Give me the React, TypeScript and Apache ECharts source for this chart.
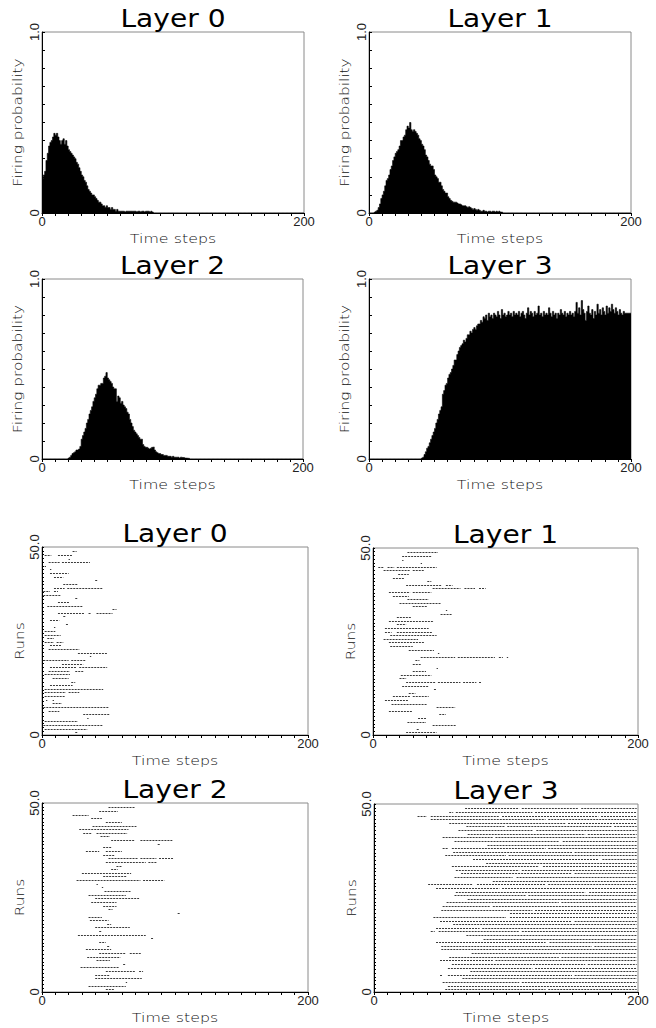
import React, { useEffect, useRef } from 'react';
import * as echarts from 'echarts';

// ---------------- DATA ----------------
const TIME_MAX = 200;
const RUN_MAX = 50;
const LAYER_TITLES = ['Layer 0', 'Layer 1', 'Layer 2', 'Layer 3'];
const X_NAME = 'Time steps';
const HIST_Y_NAME = 'Firing probability';
const RASTER_Y_NAME = 'Runs';

// firing probability per time step; each array starts at its *_START step, zero elsewhere
const L0_PROB_START = 0;
const L0_PROB = [
  0.19, 0.21, 0.23, 0.29, 0.33, 0.37, 0.39, 0.40, 0.42, 0.44,
  0.43, 0.44, 0.42, 0.40, 0.38, 0.40, 0.41, 0.38, 0.40, 0.37,
  0.35, 0.34, 0.33, 0.32, 0.31, 0.30, 0.28, 0.27, 0.25, 0.23,
  0.21, 0.20, 0.18, 0.17, 0.15, 0.13, 0.12, 0.11, 0.10, 0.10,
  0.09, 0.08, 0.07, 0.06, 0.06, 0.05, 0.04, 0.04, 0.03, 0.04,
  0.03, 0.03, 0.02, 0.03, 0.02, 0.02, 0.01, 0.02, 0.01, 0.01,
  0.01, 0.01, 0.01, 0.005, 0.01, 0.01, 0.01, 0.01, 0.01, 0.01,
  0.01, 0.01, 0.005, 0.01, 0.01, 0.005, 0.01, 0.01, 0.005, 0.01,
  0.01, 0.01, 0.005, 0.01, 0.005,
];
const L1_PROB_START = 4;
const L1_PROB = [
  0.005, 0.01, 0.015, 0.03, 0.05, 0.08,
  0.10, 0.12, 0.15, 0.18, 0.19, 0.21, 0.24, 0.26, 0.29, 0.31,
  0.33, 0.34, 0.35, 0.37, 0.40, 0.40, 0.42, 0.43, 0.46, 0.48,
  0.47, 0.50, 0.46, 0.45, 0.46, 0.45, 0.44, 0.43, 0.41, 0.40,
  0.38, 0.37, 0.35, 0.32, 0.31, 0.29, 0.27, 0.26, 0.26, 0.24,
  0.21, 0.20, 0.19, 0.17, 0.17, 0.15, 0.13, 0.12, 0.11, 0.11,
  0.09, 0.08, 0.07, 0.065, 0.06, 0.06, 0.06, 0.055, 0.05, 0.05,
  0.045, 0.04, 0.04, 0.04, 0.035, 0.03, 0.035, 0.03, 0.025, 0.02,
  0.025, 0.02, 0.015, 0.02, 0.015, 0.01, 0.01, 0.015, 0.01, 0.01,
  0.005, 0.01, 0.01, 0.005, 0.01, 0.01, 0.005, 0.01, 0.005, 0.01, 0.005, 0.005,
];
const L2_PROB_START = 20;
const L2_PROB = [
  0.005, 0.01, 0.02, 0.03, 0.035, 0.04, 0.05, 0.05, 0.055, 0.07,
  0.11, 0.13, 0.15, 0.17, 0.20, 0.22, 0.25, 0.27, 0.29, 0.32,
  0.34, 0.36, 0.39, 0.41, 0.41, 0.42, 0.42, 0.45, 0.46, 0.48,
  0.45, 0.44, 0.43, 0.42, 0.40, 0.39, 0.39, 0.32, 0.35, 0.34,
  0.31, 0.32, 0.30, 0.29, 0.28, 0.26, 0.25, 0.22, 0.20, 0.18,
  0.16, 0.15, 0.14, 0.13, 0.12, 0.11, 0.11, 0.08, 0.07, 0.065,
  0.065, 0.06, 0.055, 0.06, 0.065, 0.067, 0.05, 0.04, 0.035, 0.03,
  0.03, 0.025, 0.025, 0.02, 0.02, 0.02, 0.015, 0.015, 0.015, 0.01,
  0.015, 0.01, 0.01, 0.01, 0.01, 0.005, 0.01, 0.008, 0.008, 0.005, 0.005, 0.004, 0.004,
];
const L3_PROB_START = 40;
const L3_PROB = [
  0.005, 0.01, 0.025, 0.04, 0.06, 0.07, 0.09, 0.11, 0.13, 0.15,
  0.17, 0.20, 0.22, 0.25, 0.27, 0.29, 0.36, 0.38, 0.41, 0.42,
  0.45, 0.47, 0.48, 0.50, 0.52, 0.55, 0.55, 0.58, 0.60, 0.62,
  0.63, 0.64, 0.66, 0.65, 0.67, 0.69, 0.69, 0.71, 0.70, 0.72,
  0.73, 0.72, 0.74, 0.75, 0.75, 0.77, 0.76, 0.79, 0.78, 0.80,
  0.77, 0.81, 0.79, 0.80, 0.78, 0.81, 0.80, 0.79, 0.82, 0.80,
  0.78, 0.83, 0.80, 0.81, 0.79, 0.80, 0.82, 0.80, 0.81, 0.79,
  0.82, 0.80, 0.81, 0.80, 0.82, 0.79, 0.81, 0.82, 0.80, 0.78,
  0.81, 0.84, 0.80, 0.82, 0.81, 0.79, 0.82, 0.80, 0.81, 0.85,
  0.80, 0.81, 0.79, 0.82, 0.80, 0.81, 0.80, 0.84, 0.81, 0.79,
  0.82, 0.80, 0.81, 0.78, 0.81, 0.80, 0.83, 0.81, 0.80, 0.82,
  0.79, 0.81, 0.80, 0.82, 0.80, 0.81, 0.79, 0.82, 0.87, 0.81,
  0.84, 0.80, 0.88, 0.83, 0.81, 0.77, 0.82, 0.85, 0.81, 0.80,
  0.83, 0.78, 0.82, 0.80, 0.86, 0.81, 0.83, 0.80, 0.84, 0.82,
  0.80, 0.85, 0.81, 0.84, 0.82, 0.86, 0.83, 0.81, 0.84, 0.82,
  0.80, 0.83, 0.81, 0.80, 0.82, 0.81, 0.81, 0.81, 0.81, 0.81,
];

// spike rasters: one entry per run, listed from the top run down to run 0;
// each entry lists [firstStep, lastStep] stretches of firing
const L0_RASTER = [
  [[23, 26]], [[2, 7], [12, 23]], [[20, 21]], [[5, 14], [15, 36]], [[2, 3]],
  [[6, 7]], [[6, 20]], [[9, 16]], [[40, 42]], [[16, 27]],
  [[9, 17], [19, 46]], [[1, 6], [9, 12]], [[1, 14]], [[25, 27]], [[12, 21]],
  [[4, 31]], [[53, 56]], [[12, 32], [35, 37], [41, 53]], [[16, 18]], [[6, 13]],
  [[18, 20]], [[9, 10]], [[2, 10]], [[2, 14]], [[4, 9]],
  [[2, 9], [11, 16]], [[6, 15]], [[5, 28]], [[27, 49]], [[36, 37]],
  [[1, 20], [22, 33]], [[15, 31]], [[6, 26], [28, 49]], [[5, 21], [25, 31]], [[2, 21]],
  [[8, 20]], [[22, 25]], [[6, 23]], [[2, 46]], [[2, 18], [20, 28]],
  [[2, 17]], [[3, 4], [8, 9]], [[8, 15]], [[1, 50]], [[5, 13]],
  [[31, 51]], [[34, 35]], [[2, 27]], [[1, 46]], [[2, 34]],
  [[25, 27]],
];
const L1_RASTER = [
  [[26, 49]], [[22, 44]], [[22, 23]], [[36, 37]], [[4, 8], [11, 16], [18, 48]],
  [[8, 28], [30, 39]], [[19, 27]], [[15, 24]], [[41, 44]], [[25, 52], [55, 60]],
  [[45, 66], [69, 77], [80, 85]], [[12, 28], [30, 44]], [[15, 27]], [[26, 42]], [[20, 51]],
  [[30, 41]], [[55, 56]], [[51, 60]], [[18, 29]], [[12, 46]],
  [[18, 25]], [[9, 42]], [[9, 14], [18, 45]], [[13, 48]], [[8, 34]],
  [[12, 39]], [[13, 30]], [[27, 46]], [[49, 50]], [[36, 62], [64, 92], [95, 98], [101, 102]],
  [[32, 35]], [[30, 36]], [[48, 49]], [[30, 40]], [[21, 44]],
  [[20, 25]], [[25, 47], [49, 66], [68, 78], [80, 82]], [[22, 42]], [[46, 48]], [[27, 32]],
  [[15, 28], [30, 42]], [[9, 27]], [[14, 41]], [[48, 62]], [[12, 30]],
  [[50, 55]], [[34, 40]], [[26, 40]], [[45, 63]], [[33, 35]],
  [[25, 48]],
];
const L2_RASTER = [
  [[50, 70]], [[43, 57]], [[23, 35]], [[37, 45]], [[48, 60]],
  [[38, 71]], [[28, 65]], [[31, 37], [41, 64]], [[44, 51]], [[52, 70], [74, 98]],
  [[87, 89]], [[46, 52]], [[33, 43], [48, 60]], [[46, 55]], [[50, 72], [74, 86], [88, 99]],
  [[48, 78], [80, 86]], [[56, 60]], [[52, 57]], [[30, 67]], [[46, 64]],
  [[26, 74], [76, 92]], [[41, 42]], [[45, 46]], [[47, 67]], [[35, 63]],
  [[40, 73]], [[37, 56]], [[46, 56]], [[50, 53]], [[102, 104]],
  [[35, 45]], [[36, 50]], [[49, 52]], [[40, 66]], [[43, 45]],
  [[27, 78]], [[82, 84]], [[43, 48]], [[49, 51]], [[33, 52]],
  [[43, 63], [66, 75]], [[34, 59]], [[41, 51]], [[61, 63]], [[29, 58]],
  [[48, 70], [73, 76]], [[40, 51]], [[40, 75]], [[63, 64]], [[35, 63]],
  [[48, 54]],
];
const L3_RASTER = [
  [[69, 110], [112, 155], [157, 199]], [[57, 60], [62, 120], [122, 199]], [[33, 40], [43, 95], [97, 170], [172, 199]], [[43, 130], [132, 199]], [[57, 145], [147, 199]],
  [[70, 99], [101, 180], [182, 199]], [[64, 120], [123, 199]], [[71, 160], [162, 199]], [[52, 90], [92, 199]], [[61, 140], [143, 199]],
  [[86, 199]], [[52, 56], [59, 130], [132, 199]], [[60, 150], [152, 199]], [[54, 100], [102, 199]], [[75, 170], [173, 199]],
  [[85, 199]], [[59, 125], [128, 199]], [[62, 110], [112, 199]], [[66, 150], [152, 199]], [[61, 105], [108, 199]],
  [[90, 199]], [[41, 75], [78, 130], [132, 199]], [[47, 95], [97, 199]], [[62, 160], [163, 199]], [[61, 115], [117, 199]],
  [[71, 199]], [[55, 140], [142, 199]], [[52, 88], [90, 199]], [[51, 120], [122, 199]], [[103, 199]],
  [[45, 100], [103, 199]], [[50, 150], [152, 199]], [[60, 199]], [[47, 80], [82, 199]], [[43, 46], [49, 110], [112, 199]],
  [[70, 199]], [[83, 199]], [[47, 130], [133, 199]], [[51, 165], [167, 199]], [[51, 100], [102, 199]],
  [[74, 199]], [[57, 140], [142, 199]], [[50, 90], [92, 199]], [[59, 160], [162, 199]], [[56, 120], [122, 199]],
  [[73, 199]], [[50, 52], [56, 150], [152, 199]], [[67, 199]], [[52, 110], [112, 199]], [[56, 199]],
  [[54, 130], [132, 199]],
];

const HISTS = [
  { start: L0_PROB_START, values: L0_PROB },
  { start: L1_PROB_START, values: L1_PROB },
  { start: L2_PROB_START, values: L2_PROB },
  { start: L3_PROB_START, values: L3_PROB },
];
const RASTERS = [L0_RASTER, L1_RASTER, L2_RASTER, L3_RASTER];

// ---------------- LAYOUT ----------------
const HIST_GRIDS = [
  { left: 42, top: 32, width: 262, height: 181 },
  { left: 369, top: 32, width: 262, height: 181 },
  { left: 42, top: 279, width: 261, height: 180 },
  { left: 369, top: 279, width: 262, height: 180 },
];
const RASTER_GRIDS = [
  { left: 42, top: 547, width: 266, height: 188 },
  { left: 373, top: 548, width: 265, height: 187 },
  { left: 42, top: 803, width: 266, height: 189 },
  { left: 374, top: 804, width: 264, height: 188 },
];
const TITLE_DY = 13;
const XNAME_DY = 25.5;

const WORD_FONT = 'DejaVu Sans';
const TICK_FONT = 'Liberation Sans';
const TEXT_COLOR = '#111';

function histSeriesData(h: { start: number; values: number[] }) {
  const out: number[][] = [];
  let last = 0;
  for (let t = 0; t < TIME_MAX; t++) {
    const i = t - h.start;
    const v = i >= 0 && i < h.values.length ? h.values[i] : 0;
    out.push([t, v]);
    last = v;
  }
  out.push([TIME_MAX, last]);
  return out;
}

function rasterSeriesData(rows: number[][][]) {
  const out: number[][] = [];
  const n = rows.length;
  rows.forEach((segs, i) => {
    const run = n - 1 - i;
    segs.forEach(([s, e]) => out.push([run, s, e]));
  });
  return out;
}

function near(a: number, b: number) {
  return Math.abs(a - b) < 1e-6;
}

function xAxisFor(gridIndex: number) {
  return {
    type: 'value',
    gridIndex,
    min: 0,
    max: TIME_MAX,
    interval: 10,
    axisLine: { show: true, onZero: false, lineStyle: { color: '#000', width: 1 } },
    axisTick: { show: true, inside: false, length: 3, lineStyle: { color: '#000', width: 1 } },
    axisLabel: {
      show: true,
      margin: 2,
      fontFamily: TICK_FONT,
      fontSize: 13,
      color: '#222',
      formatter: (v: number) => (near(v, 0) ? '0' : near(v, TIME_MAX) ? String(TIME_MAX) : ''),
    },
    splitLine: { show: false },
  };
}

function yAxisFor(gridIndex: number, max: number, interval: number, topLabel: string, tickLen: number) {
  return {
    type: 'value',
    gridIndex,
    min: 0,
    max,
    interval,
    axisLine: { show: true, onZero: false, lineStyle: { color: '#000', width: 1 } },
    axisTick: { show: true, inside: true, length: tickLen, lineStyle: { color: '#000', width: 1 } },
    axisLabel: {
      show: true,
      rotate: 90,
      margin: 1,
      fontFamily: TICK_FONT,
      fontSize: 13,
      color: '#222',
      formatter: (v: number) => (near(v, 0) ? '0' : near(v, max) ? topLabel : ''),
    },
    splitLine: { show: false },
  };
}

function textEl(
  x: number,
  y: number,
  text: string,
  font: string,
  size: number,
  scaleX: number,
  rotation = 0,
  weight: any = 'normal',
  color = '#000',
) {
  return {
    type: 'text',
    x,
    y,
    rotation,
    scaleX,
    silent: true,
    style: {
      text,
      fontFamily: font,
      fontSize: size,
      fontWeight: weight,
      fill: color,
      textAlign: 'center',
      textVerticalAlign: 'middle',
      verticalAlign: 'middle',
    },
  };
}

function buildOption() {
  const grids: any[] = [];
  const xAxes: any[] = [];
  const yAxes: any[] = [];
  const series: any[] = [];
  const graphics: any[] = [];

  const allGrids = [...HIST_GRIDS, ...RASTER_GRIDS];
  allGrids.forEach((g, i) => {
    grids.push({ ...g, show: true, borderColor: '#8a8a8a', borderWidth: 1, backgroundColor: 'transparent' });
    xAxes.push(xAxisFor(i));
    const isHist = i < 4;
    yAxes.push(isHist ? yAxisFor(i, 1, 0.1, '1.0', 3) : yAxisFor(i, RUN_MAX, 1, RUN_MAX.toFixed(1), 2));

    const layer = i % 4;
    const cx = g.left + g.width / 2;
    graphics.push(textEl(cx, g.top - TITLE_DY, LAYER_TITLES[layer], WORD_FONT, 24, 1.17));
    graphics.push(textEl(cx, g.top + g.height + XNAME_DY, X_NAME, WORD_FONT, 13, 1.22, 0, 200, TEXT_COLOR));
    graphics.push(
      textEl(
        g.left - (isHist ? 24.5 : 22.5),
        g.top + g.height / 2,
        isHist ? HIST_Y_NAME : RASTER_Y_NAME,
        WORD_FONT,
        13,
        1.18,
        Math.PI / 2,
        200,
        TEXT_COLOR,
      ),
    );
  });

  // hidden run-index axes for the rasters (runs spread inside the frame)
  RASTER_GRIDS.forEach((_, k) => {
    yAxes.push({ type: 'value', gridIndex: 4 + k, min: -0.75, max: RUN_MAX + 1.2, show: false });
  });

  HISTS.forEach((h, k) => {
    series.push({
      type: 'line',
      xAxisIndex: k,
      yAxisIndex: k,
      step: 'end',
      data: histSeriesData(h),
      showSymbol: false,
      symbol: 'none',
      silent: true,
      lineStyle: { color: '#000', width: 0.6 },
      areaStyle: { color: '#000', opacity: 1 },
    });
  });

  RASTERS.forEach((rows, k) => {
    series.push({
      type: 'custom',
      xAxisIndex: 4 + k,
      yAxisIndex: 8 + k,
      data: rasterSeriesData(rows),
      encode: { x: [1, 2], y: 0 },
      silent: true,
      renderItem: (_params: any, api: any) => {
        const run = api.value(0);
        const p1 = api.coord([api.value(1), run]);
        const p2 = api.coord([api.value(2), run]);
        const y = Math.round(p1[1]) + 0.5;
        return {
          type: 'line',
          shape: { x1: p1[0], y1: y, x2: Math.max(p2[0], p1[0] + 1.3), y2: y },
          style: { stroke: '#3a3a3a', lineWidth: 1, lineDash: [2, 1] },
        };
      },
    });
  });

  return {
    animation: false,
    backgroundColor: '#fff',
    grid: grids,
    xAxis: xAxes,
    yAxis: yAxes,
    series,
    graphic: graphics,
  };
}

export default function App() {
  const ref = useRef<HTMLDivElement>(null);
  useEffect(() => {
    if (!ref.current) return;
    const chart = echarts.init(ref.current, null, { renderer: 'svg' });
    chart.setOption(buildOption() as any);
    return () => chart.dispose();
  }, []);
  return (
    <div
      ref={ref}
      style={{ position: 'absolute', left: 0, top: 0, width: 656, height: 1028, background: '#fff' }}
    />
  );
}
